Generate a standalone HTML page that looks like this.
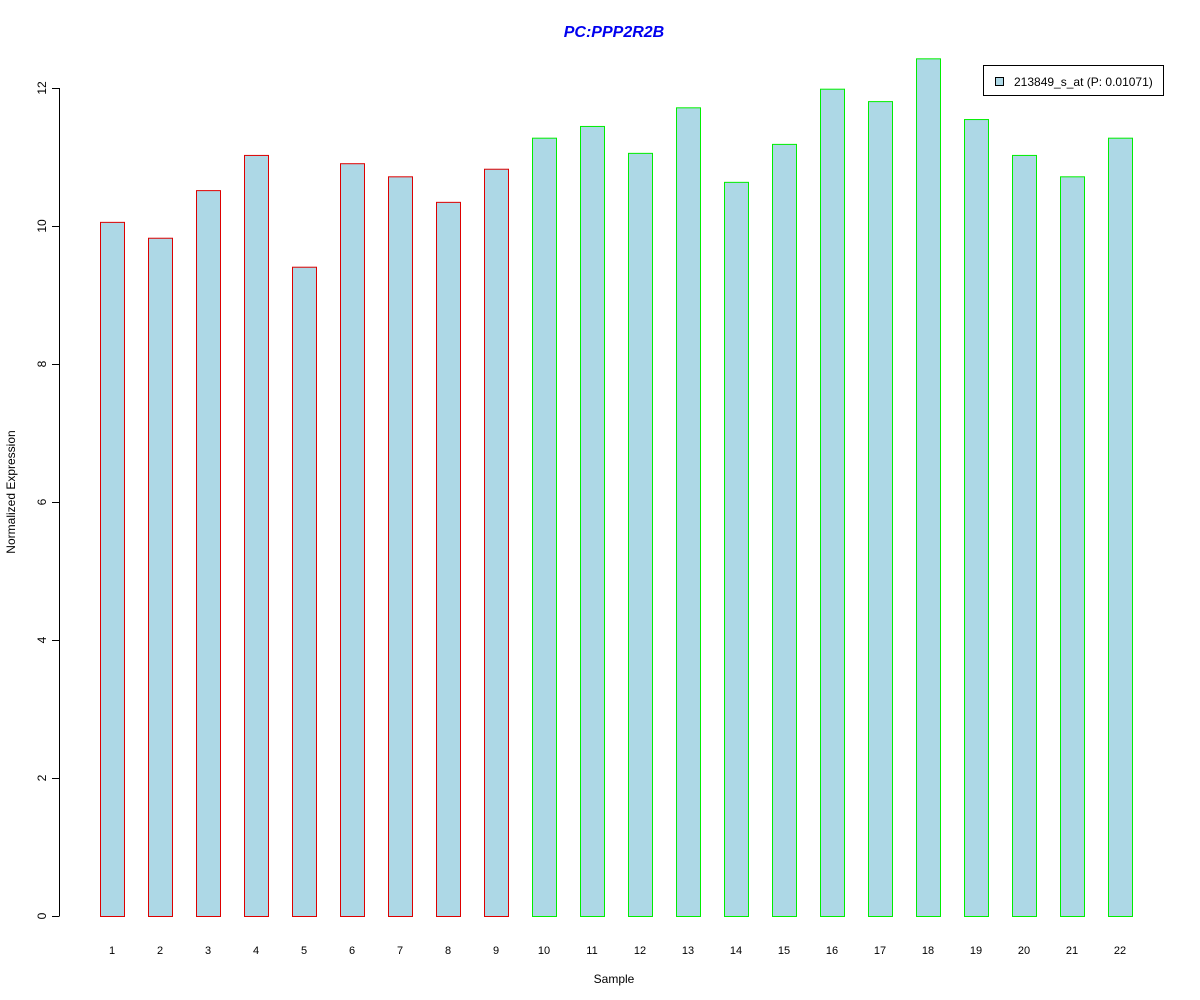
<!DOCTYPE html>
<html><head><meta charset="utf-8"><style>body{margin:0;background:#fff}svg{display:block}text{font-family:"Liberation Sans",Arial,sans-serif}</style></head>
<body>
<svg id="chart" width="1200" height="1000" viewBox="0 0 1200 1000">
<rect width="1200" height="1000" fill="#fff"/>
<text x="614" y="37" text-anchor="middle" font-size="16" font-weight="bold" font-style="italic" fill="#0000ee">PC:PPP2R2B</text>
<text x="614" y="983" text-anchor="middle" font-size="12">Sample</text>
<text transform="translate(15,492) rotate(-90)" text-anchor="middle" font-size="12">Normalized Expression</text>
<g id="axis"></g><g id="bars"></g>
<g>
<rect x="983.5" y="65.5" width="180" height="30" fill="#fff" stroke="#000"/>
<rect x="995.5" y="77.5" width="8" height="8" fill="#add8e6" stroke="#000"/>
<text x="1014" y="86" font-size="12">213849_s_at (P: 0.01071)</text>
</g>
</svg>
<script>
const categories=["1","2","3","4","5","6","7","8","9","10","11","12","13","14","15","16","17","18","19","20","21","22"];
const values=[10.06,9.83,10.52,11.03,9.41,10.91,10.72,10.35,10.83,11.28,11.45,11.06,11.72,10.64,11.19,11.99,11.81,12.43,11.55,11.03,10.72,11.28];
const groups=["ctrl","ctrl","ctrl","ctrl","ctrl","ctrl","ctrl","ctrl","ctrl","pc","pc","pc","pc","pc","pc","pc","pc","pc","pc","pc","pc","pc"];
const yTicks=[0,2,4,6,8,10,12];
const NS="http://www.w3.org/2000/svg";
const y=v=>916-v*69;
const x=i=>112+i*48;
const bars=document.getElementById('bars'),axis=document.getElementById('axis');
function mk(t,a,p){const e=document.createElementNS(NS,t);for(const k in a)e.setAttribute(k,a[k]);p.appendChild(e);return e;}
mk('line',{x1:59.5,x2:59.5,y1:y(12),y2:y(0),stroke:'#000'},axis);
yTicks.forEach(v=>{
  const t=mk('line',{x1:52,x2:59.5,y1:y(v)+.5,y2:y(v)+.5,stroke:'#000'},axis);
  
  
  const l=mk('text',{transform:`translate(46,${y(v)}) rotate(-90)`,'text-anchor':'middle','font-size':12},axis);
  l.textContent=v;
  
  
});
values.forEach((v,i)=>{
  const r=mk('rect',{x:x(i)-12+.5,y:y(v)+.5,width:24,height:v*69,fill:'#add8e6',stroke:groups[i]=='ctrl'?'#dd0000':'#00ee00'},bars);
  
  
  const l=mk('text',{x:x(i),y:954,'text-anchor':'middle','font-size':11},bars);
  l.textContent=categories[i];
  
  
});
</script>
</body></html>
